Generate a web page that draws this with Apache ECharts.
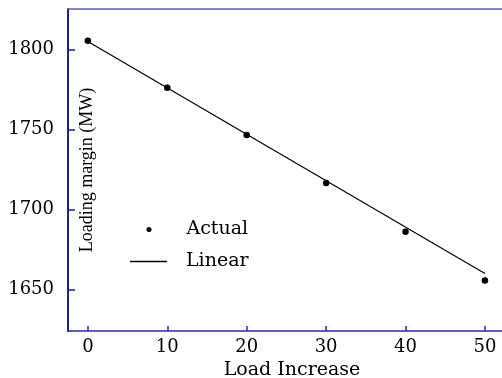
<!DOCTYPE html>
<html>
<head>
<meta charset="utf-8">
<script src="https://cdn.jsdelivr.net/npm/echarts@6/dist/echarts.min.js"></script>
<style>html,body{margin:0;padding:0;background:#fff}#c{width:502px;height:378px}</style>
</head>
<body>
<div id="c"></div>
<script>
var loadIncrease = [0, 10, 20, 30, 40, 50];
var actualMargin = [1805.5, 1776, 1746.5, 1716.5, 1686, 1655.5];
var linearX = [0, 50];
var linearY = [1805, 1660];
var xTicks = [0, 10, 20, 30, 40, 50];
var yTicks = [1650, 1700, 1750, 1800];
var xName = 'Load Increase';
var yName = 'Loading margin (MW)';
var seriesNames = ['Actual', 'Linear'];

var chart = echarts.init(document.getElementById('c'));
var serif = 'DejaVu Serif';
chart.setOption({
  animation: false,
  backgroundColor: '#fff',
  grid: {left: 68, top: 9, right: 0, bottom: 47, containLabel: false, outerBoundsMode: 'none'},
  legend: [
    {data: [{name: seriesNames[0], icon: 'circle'}], left: 146.5, top: 220, padding: 0, itemWidth: 5, itemHeight: 5,
     itemStyle: {color: '#000', opacity: 1},
     textStyle: {fontFamily: serif, fontSize: 19, color: '#000', padding: [0, 0, 0, 30]}},
    {data: [{name: seriesNames[1], icon: 'rect'}], left: 130, top: 252, padding: 0, itemWidth: 37, itemHeight: 1.3,
     itemStyle: {color: '#000'},
     textStyle: {fontFamily: serif, fontSize: 19, color: '#000', padding: [0, 0, 0, 14]}}
  ],
  xAxis: [{
    type: 'value', min: -2.5, max: 52.15,
    name: xName, nameLocation: 'middle', nameGap: 29,
    nameTextStyle: {fontFamily: serif, fontSize: 19, color: '#000', padding: [0, 0, 0, 14]},
    axisLine: {onZero: false, lineStyle: {color: '#2a2a9e', width: 1.5}},
    axisTick: {inside: true, length: 5, customValues: xTicks, lineStyle: {color: '#2a2a9e', width: 1.5}},
    axisLabel: {customValues: xTicks, margin: 7, fontFamily: serif, fontSize: 18, color: '#000'},
    splitLine: {show: false}
  }, {
    type: 'value', position: 'top', min: -2.5, max: 52.15,
    axisLine: {show: true, onZero: false, lineStyle: {color: '#5a5ab6', width: 1.5}},
    axisTick: {show: false}, axisLabel: {show: false}, splitLine: {show: false}
  }],
  yAxis: {
    type: 'value', min: 1624, max: 1825.3,
    name: yName, nameLocation: 'middle', nameGap: -28,
    nameTextStyle: {fontFamily: 'Liberation Serif', fontSize: 18, color: '#000'},
    axisLine: {show: true, onZero: false, lineStyle: {color: '#20208f', width: 2}},
    axisTick: {inside: true, length: 7, customValues: yTicks, lineStyle: {color: '#20208f', width: 1.5}},
    axisLabel: {customValues: yTicks, margin: 14, fontFamily: serif, fontSize: 18, color: '#000',
      formatter: function (v) { return String(v); }},
    splitLine: {show: false}
  },
  series: [{
    name: seriesNames[0], type: 'scatter', symbol: 'circle', symbolSize: 6.5,
    itemStyle: {color: '#000', opacity: 1},
    data: loadIncrease.map(function (x, i) { return [x, actualMargin[i]]; }),
    z: 3
  }, {
    name: seriesNames[1], type: 'line', symbol: 'none', showSymbol: false,
    lineStyle: {color: '#000', width: 1.2}, itemStyle: {color: '#000'},
    data: linearX.map(function (x, i) { return [x, linearY[i]]; })
  }]
});
</script>
</body>
</html>
